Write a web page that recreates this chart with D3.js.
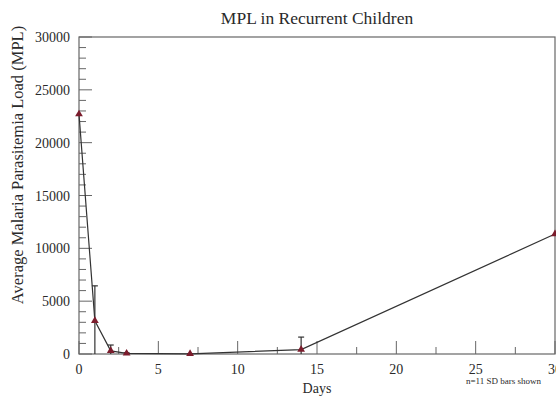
<!DOCTYPE html>
<html>
<head>
<meta charset="utf-8">
<script src="https://cdn.jsdelivr.net/npm/d3@7"></script>
<style>
  body { margin: 0; background: #fff; }
  text { font-family: "Liberation Serif", "DejaVu Serif", serif; fill: #2a2a2a; }
</style>
</head>
<body>
<div id="chart"></div>
<script>
// Values
const days = [0, 1, 2, 3, 7, 14, 30];
const mpl = [22700, 3150, 300, 60, 20, 420, 11350];
const sdUpper = [22700, 6450, 850, 120, 40, 1600, 11350];
const sdLower = [22700, 0, 0, 0, 0, 0, 11350];
const xTicks = [0, 5, 10, 15, 20, 25, 30];
const yTicks = [0, 5000, 10000, 15000, 20000, 25000, 30000];

const width = 556, height = 396;
const margin = { top: 37, right: 1, bottom: 42, left: 79 };

const svg = d3.select("#chart").append("svg")
    .attr("width", width)
    .attr("height", height);

const x = d3.scaleLinear().domain([0, 30]).range([margin.left, width - margin.right]);
const y = d3.scaleLinear().domain([0, 30000]).range([height - margin.bottom, margin.top]);

const frame = "#666";

// Frame
svg.append("rect")
    .attr("x", x(0)).attr("y", y(30000))
    .attr("width", x(30) - x(0)).attr("height", y(0) - y(30000))
    .attr("fill", "none").attr("stroke", frame).attr("stroke-width", 1.2);

// Ticks (inward)
const xMinor = d3.range(2.5, 30, 5);
svg.selectAll(".xminor").data(xMinor).enter().append("line")
    .attr("x1", d => x(d)).attr("x2", d => x(d))
    .attr("y1", y(0)).attr("y2", y(0) - 7)
    .attr("stroke", frame);
svg.selectAll(".xmajor").data(xTicks).enter().append("line")
    .attr("x1", d => x(d)).attr("x2", d => x(d))
    .attr("y1", y(0)).attr("y2", y(0) - 13)
    .attr("stroke", frame);

const yMinor = d3.range(1000, 30000, 1000).filter(d => d % 5000 !== 0);
svg.selectAll(".yminor").data(yMinor).enter().append("line")
    .attr("x1", x(0)).attr("x2", x(0) + 7)
    .attr("y1", d => y(d)).attr("y2", d => y(d))
    .attr("stroke", frame);
svg.selectAll(".ymajor").data(yTicks).enter().append("line")
    .attr("x1", x(0)).attr("x2", x(0) + 13)
    .attr("y1", d => y(d)).attr("y2", d => y(d))
    .attr("stroke", frame);

// Tick labels
svg.selectAll(".xlab").data(xTicks).enter().append("text")
    .attr("x", d => x(d)).attr("y", y(0) + 20)
    .attr("text-anchor", "middle")
    .style("font-size", "14px")
    .text(d => d);
svg.selectAll(".ylab").data(yTicks).enter().append("text")
    .attr("x", x(0) - 9).attr("y", d => y(d) + 5)
    .attr("text-anchor", "end")
    .style("font-size", "14px")
    .text(d => d);

// Error bars
const cap = 3;
const err = svg.append("g").attr("stroke", "#333").attr("stroke-width", 1.2);
days.forEach((d, i) => {
    if (sdUpper[i] === mpl[i]) return;
    err.append("line")
        .attr("x1", x(d)).attr("x2", x(d))
        .attr("y1", y(sdLower[i])).attr("y2", y(sdUpper[i]));
    err.append("line")
        .attr("x1", x(d) - cap).attr("x2", x(d) + cap)
        .attr("y1", y(sdUpper[i])).attr("y2", y(sdUpper[i]));
});

// Line
const line = d3.line().x((d, i) => x(days[i])).y(d => y(d));
svg.append("path")
    .datum(mpl)
    .attr("d", line)
    .attr("fill", "none")
    .attr("stroke", "#333")
    .attr("stroke-width", 1.2);

// Markers
svg.selectAll(".pt").data(mpl).enter().append("path")
    .attr("d", d3.symbol().type(d3.symbolTriangle).size(26))
    .attr("transform", (d, i) => `translate(${x(days[i])},${y(d)})`)
    .attr("fill", "#7b1c2c");

// Titles
svg.append("text")
    .attr("x", 317).attr("y", 24)
    .attr("text-anchor", "middle")
    .style("font-size", "17.5px")
    .text("MPL in Recurrent Children");

svg.append("text")
    .attr("x", 317).attr("y", 393)
    .attr("text-anchor", "middle")
    .style("font-size", "14px")
    .text("Days");

svg.append("text")
    .attr("transform", "translate(23,165) rotate(-90)")
    .attr("text-anchor", "middle")
    .style("font-size", "16.5px")
    .text("Average Malaria Parasitemia Load (MPL)");

svg.append("text")
    .attr("x", 466).attr("y", 384)
    .style("font-size", "9px")
    .text("n=11 SD bars shown");
</script>
</body>
</html>
